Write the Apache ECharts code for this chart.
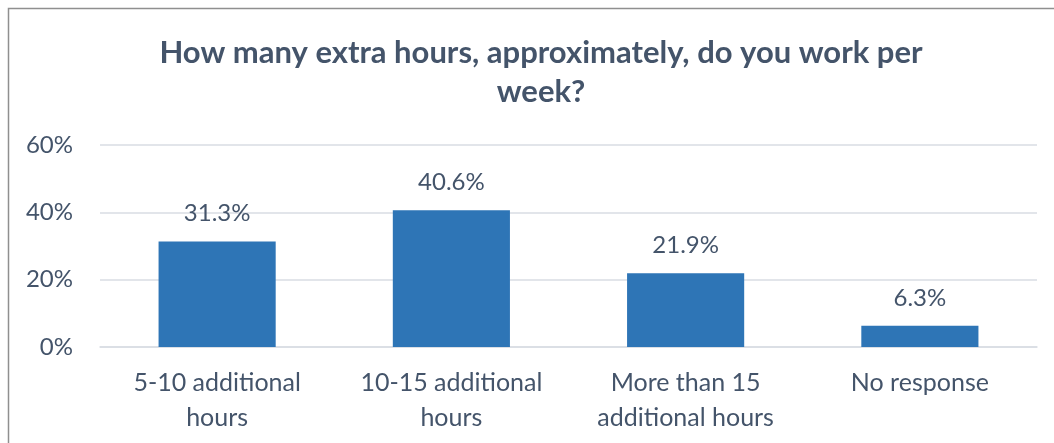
<!DOCTYPE html>
<html>
<head>
<meta charset="utf-8">
<title>Extra hours per week</title>
<script src="https://cdn.jsdelivr.net/npm/echarts@6/dist/echarts.min.js"></script>
<style>
  html, body { margin: 0; padding: 0; background: #ffffff; }
  #chart { width: 1054px; height: 443px; }
</style>
</head>
<body>
<div id="chart"></div>
<script>
// Survey answers: share of respondents per range of extra weekly hours
const categories = [
  '5-10 additional\nhours',
  '10-15 additional\nhours',
  'More than 15\nadditional hours',
  'No response'
];
const shares = [31.3, 40.6, 21.9, 6.3];
const yTicks = [0, 20, 40, 60];

const textColor = '#44546A';
const fontFamily = 'Lato, "Open Sans", sans-serif';

const chart = echarts.init(document.getElementById('chart'), null, { renderer: 'canvas' });

chart.setOption({
  backgroundColor: '#ffffff',
  animation: false,
  title: {
    text: 'How many extra hours, approximately, do you work per\nweek?',
    left: 536,
    top: 28,
    textAlign: 'center',
    textStyle: {
      color: textColor,
      fontFamily: fontFamily,
      fontWeight: 'bold',
      fontSize: 31,
      lineHeight: 39
    }
  },
  graphic: [{
    type: 'polyline',
    shape: { points: [[8.5, 443], [8.5, 8.5], [1054, 8.5]] },
    style: { stroke: '#8f8f8f', lineWidth: 1.5, fill: null },
    silent: true
  }],
  grid: { left: 100, right: 17, top: 145, bottom: 96 },
  xAxis: {
    type: 'category',
    data: categories,
    axisLine: { show: true, lineStyle: { color: '#d9dde3', width: 1.5 } },
    axisTick: { show: false },
    axisLabel: {
      interval: 0,
      margin: 18,
      color: textColor,
      fontFamily: fontFamily,
      fontSize: 25,
      lineHeight: 35
    }
  },
  yAxis: {
    type: 'value',
    min: yTicks[0],
    max: yTicks[yTicks.length - 1],
    interval: yTicks[1] - yTicks[0],
    axisLine: { show: false },
    axisTick: { show: false },
    splitLine: { lineStyle: { color: '#d9dde3', width: 1.5 } },
    axisLabel: {
      margin: 27,
      color: textColor,
      fontFamily: fontFamily,
      fontSize: 24,
      formatter: v => v + '%'
    }
  },
  series: [{
    type: 'bar',
    data: shares,
    barWidth: '50%',
    itemStyle: { color: '#2E75B6' },
    label: {
      show: true,
      position: 'top',
      distance: 16,
      color: textColor,
      fontFamily: fontFamily,
      fontSize: 24,
      formatter: p => p.value.toFixed(1) + '%'
    }
  }]
});
</script>
</body>
</html>
